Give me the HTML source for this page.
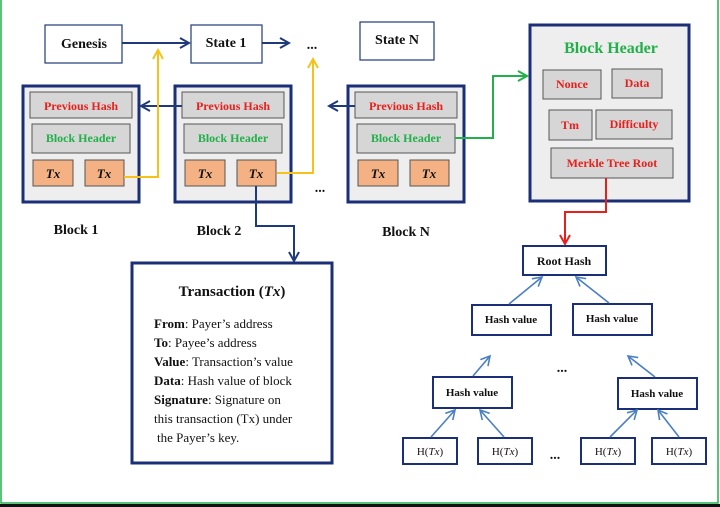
<!DOCTYPE html>
<html><head><meta charset="utf-8"><style>
html,body{margin:0;padding:0;background:#fff}
svg{display:block}
text{font-family:"Liberation Serif",serif;font-weight:bold}
text.n{font-weight:normal}
</style></head><body>
<svg width="720" height="507" viewBox="0 0 720 507" xmlns="http://www.w3.org/2000/svg">
<defs>
<marker id="an" markerWidth="12" markerHeight="12" refX="10" refY="6" orient="auto" markerUnits="userSpaceOnUse"><path d="M1,1 L10,6 L1,11" fill="none" stroke="#1f3a7a" stroke-width="2"/></marker>
<marker id="ay" markerWidth="12" markerHeight="12" refX="10" refY="6" orient="auto" markerUnits="userSpaceOnUse"><path d="M1,1 L10,6 L1,11" fill="none" stroke="#f5c21b" stroke-width="2"/></marker>
<marker id="ag" markerWidth="12" markerHeight="12" refX="10" refY="6" orient="auto" markerUnits="userSpaceOnUse"><path d="M1,1 L10,6 L1,11" fill="none" stroke="#22b04a" stroke-width="2"/></marker>
<marker id="ar" markerWidth="12" markerHeight="12" refX="10" refY="6" orient="auto" markerUnits="userSpaceOnUse"><path d="M1,1 L10,6 L1,11" fill="none" stroke="#e8201c" stroke-width="2"/></marker>
<marker id="ab" markerWidth="12" markerHeight="12" refX="10" refY="6" orient="auto" markerUnits="userSpaceOnUse"><path d="M1,1 L10,6 L1,11" fill="none" stroke="#4a7fc4" stroke-width="1.6"/></marker>
</defs>
<rect x="0" y="0" width="720" height="507" fill="#fff"/>
<rect x="1" y="-2" width="717" height="505" fill="none" stroke="#22b04a" stroke-width="1.5"/>
<rect x="0" y="504" width="720" height="3" fill="#111"/>

<g fill="#fff" stroke="#1f3a7a" stroke-width="1.2">
<rect x="45" y="25" width="77" height="38"/><rect x="191" y="25" width="71" height="38"/><rect x="360" y="22" width="74" height="38"/>
</g>
<g font-size="14" text-anchor="middle" fill="#111">
<text x="84" y="48">Genesis</text><text x="226" y="47">State 1</text><text x="397" y="44">State N</text>
<text x="312" y="49">...</text><text x="320" y="192">...</text>
<text x="76" y="234">Block 1</text><text x="219" y="235">Block 2</text><text x="406" y="236">Block N</text>
</g>
<line x1="122" y1="43" x2="189" y2="43" stroke="#1f3a7a" stroke-width="2" marker-end="url(#an)"/>
<line x1="262" y1="43" x2="289" y2="43" stroke="#1f3a7a" stroke-width="2" marker-end="url(#an)"/>

<g id="blk">
<rect x="23" y="86" width="116" height="116" fill="#eeeeee" stroke="#1a2f78" stroke-width="3"/>
<rect x="30" y="92" width="102" height="26" fill="#d6d6d6" stroke="#555" stroke-width="1"/>
<rect x="32" y="124" width="98" height="29" fill="#d6d6d6" stroke="#555" stroke-width="1"/>
<rect x="33" y="160" width="40" height="26" fill="#f4b183" stroke="#555" stroke-width="1"/>
<rect x="85" y="160" width="39" height="26" fill="#f4b183" stroke="#555" stroke-width="1"/>
<text x="81" y="110" font-size="12" fill="#e8201c" text-anchor="middle">Previous Hash</text>
<text x="81" y="142" font-size="12" fill="#22b04a" text-anchor="middle">Block Header</text>
<text x="53" y="178" font-size="13" font-style="italic" fill="#111" text-anchor="middle">Tx</text>
<text x="104" y="178" font-size="13" font-style="italic" fill="#111" text-anchor="middle">Tx</text>
</g>
<use href="#blk" x="152"/>
<use href="#blk" x="325"/>

<line x1="182" y1="106" x2="141" y2="106" stroke="#1f3a7a" stroke-width="2" marker-end="url(#an)"/>
<line x1="355" y1="106" x2="329" y2="106" stroke="#1f3a7a" stroke-width="2" marker-end="url(#an)"/>
<polyline points="124,177 158,177 158,50" fill="none" stroke="#f5c21b" stroke-width="2" marker-end="url(#ay)"/>
<polyline points="277,173 313,173 313,59" fill="none" stroke="#f5c21b" stroke-width="2" marker-end="url(#ay)"/>
<polyline points="256,186 256,226 294,226 294,261" fill="none" stroke="#1f3a7a" stroke-width="2" marker-end="url(#an)"/>
<polyline points="455,138 493,138 493,76 527,76" fill="none" stroke="#22b04a" stroke-width="2" marker-end="url(#ag)"/>

<rect x="132" y="263" width="200" height="200" fill="#fff" stroke="#1a2f78" stroke-width="3"/>
<text x="232" y="296" font-size="15" text-anchor="middle" fill="#111">Transaction (<tspan font-style="italic">Tx</tspan>)</text>
<g font-size="13" fill="#111">
<text class="n" x="154" y="328"><tspan font-weight="bold">From</tspan>: Payer’s address</text>
<text class="n" x="154" y="347"><tspan font-weight="bold">To</tspan>: Payee’s address</text>
<text class="n" x="154" y="366"><tspan font-weight="bold">Value</tspan>: Transaction’s value</text>
<text class="n" x="154" y="385"><tspan font-weight="bold">Data</tspan>: Hash value of block</text>
<text class="n" x="154" y="404"><tspan font-weight="bold">Signature</tspan>: Signature on</text>
<text class="n" x="154" y="423">this transaction (Tx) under</text>
<text class="n" x="157" y="442">the Payer’s key.</text>
</g>

<rect x="530" y="25" width="159" height="176" fill="#eeeeee" stroke="#1a2f78" stroke-width="3"/>
<text x="611" y="53" font-size="16" fill="#22b04a" text-anchor="middle">Block Header</text>
<g fill="#d6d6d6" stroke="#555" stroke-width="1">
<rect x="543" y="70" width="58" height="29"/><rect x="612" y="69" width="50" height="29"/>
<rect x="549" y="110" width="43" height="30"/><rect x="596" y="110" width="76" height="29"/>
<rect x="551" y="148" width="122" height="30"/>
</g>
<g font-size="12" fill="#e8201c" text-anchor="middle">
<text x="572" y="88">Nonce</text><text x="637" y="87">Data</text><text x="570" y="129">Tm</text><text x="634" y="128">Difficulty</text><text x="612" y="167">Merkle Tree Root</text>
</g>
<polyline points="606,178 606,212 565,212 565,244" fill="none" stroke="#e8201c" stroke-width="2" marker-end="url(#ar)"/>

<g fill="#fff" stroke="#1a2f78" stroke-width="2">
<rect x="523" y="246" width="83" height="29"/>
<rect x="472" y="305" width="79" height="30"/><rect x="573" y="304" width="79" height="31"/>
<rect x="433" y="377" width="79" height="31"/><rect x="618" y="378" width="79" height="31"/>
<rect x="403" y="438" width="54" height="26"/><rect x="478" y="438" width="54" height="26"/>
<rect x="581" y="438" width="54" height="26"/><rect x="652" y="438" width="54" height="26"/>
</g>
<g font-size="11" fill="#111" text-anchor="middle">
<text x="564" y="265" font-size="12">Root Hash</text>
<text x="511" y="323">Hash value</text><text x="612" y="322">Hash value</text>
<text x="472" y="396">Hash value</text><text x="657" y="397">Hash value</text>
<text class="n" x="430" y="455">H(<tspan font-style="italic">Tx</tspan>)</text>
<text class="n" x="505" y="455">H(<tspan font-style="italic">Tx</tspan>)</text>
<text class="n" x="608" y="455">H(<tspan font-style="italic">Tx</tspan>)</text>
<text class="n" x="679" y="455">H(<tspan font-style="italic">Tx</tspan>)</text>
<text x="562" y="372" font-size="14">...</text><text x="555" y="459" font-size="14">...</text>
</g>
<g stroke="#4a7fc4" stroke-width="1.6" fill="none">
<line x1="509" y1="304" x2="542" y2="277" marker-end="url(#ab)"/>
<line x1="609" y1="303" x2="576" y2="277" marker-end="url(#ab)"/>
<line x1="473" y1="376" x2="490" y2="356" marker-end="url(#ab)"/>
<line x1="655" y1="377" x2="628" y2="356" marker-end="url(#ab)"/>
<line x1="431" y1="437" x2="455" y2="410" marker-end="url(#ab)"/>
<line x1="504" y1="437" x2="480" y2="410" marker-end="url(#ab)"/>
<line x1="610" y1="437" x2="637" y2="410" marker-end="url(#ab)"/>
<line x1="679" y1="437" x2="658" y2="410" marker-end="url(#ab)"/>
</g>
</svg>
</body></html>
